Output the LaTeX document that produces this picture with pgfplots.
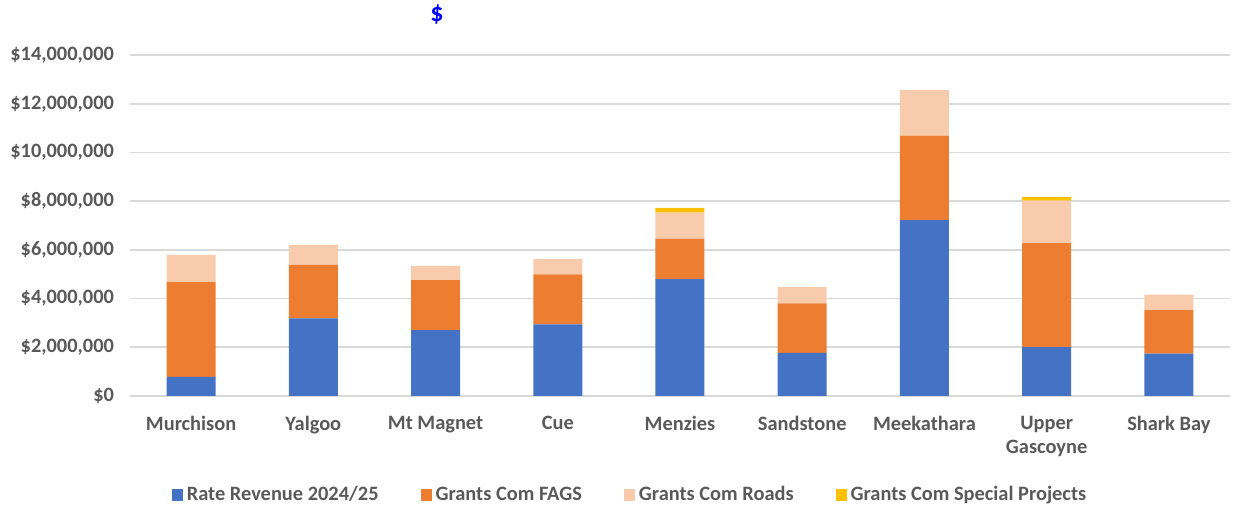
\documentclass[border=0pt]{standalone}
\usepackage{pgfplots}
\pgfplotsset{compat=1.18}
\usepackage{fontspec}
\setmainfont{Carlito}
\definecolor{cRate}{HTML}{4472C4}
\definecolor{cFags}{HTML}{ED7D31}
\definecolor{cRoads}{HTML}{F8CBAD}
\definecolor{cSpec}{HTML}{FFC000}
\definecolor{cText}{HTML}{595959}
\definecolor{cGrid}{HTML}{D9D9D9}
\begin{document}
\begin{tikzpicture}[x=1pt,y=1pt]
\useasboundingbox (0,0) rectangle (616.5,254);
\begin{axis}[
  at={(65pt,56pt)}, anchor=south west,
  scale only axis, width=550pt, height=170.5pt,
  ybar stacked, bar width=24.5pt,
  xmin=-0.5, xmax=8.5, ymin=0, ymax=14000000,
  axis line style={draw=none},
  xtick={0,...,8},
  xticklabels={Murchison,Yalgoo,Mt Magnet,Cue,Menzies,Sandstone,Meekathara,{Upper\\Gascoyne},Shark Bay},
  ytick={0,2000000,4000000,6000000,8000000,10000000,12000000,14000000},
  yticklabels={{\$0},{\$2,000,000},{\$4,000,000},{\$6,000,000},{\$8,000,000},{\$10,000,000},{\$12,000,000},{\$14,000,000}},
  scaled y ticks=false,
  major tick length=0pt,
  ymajorgrids, grid style={cGrid, line width=0.8pt},
  tick label style={font=\fontsize{10.2}{12.2}\selectfont\bfseries, text=cText},
  xticklabel style={align=center, yshift=-6.5pt},
  yticklabel style={xshift=-4.5pt},
  legend columns=4,
  legend style={at={(0.4555,-0.29)}, anchor=center, draw=none, fill=none,
    font=\fontsize{10.2}{12.2}\selectfont\bfseries, text=cText,
    /tikz/every even column/.append style={column sep=19pt}},
  legend image code/.code={\fill[#1] (0pt,-3pt) rectangle (5.5pt,3pt);},
]
\addplot[fill=cRate, draw=none] coordinates {(0,790000) (1,3190000) (2,2700000) (3,2940000) (4,4800000) (5,1770000) (6,7220000) (7,2010000) (8,1740000)};
\addlegendentry{Rate Revenue 2024/25}
\addplot[fill=cFags, draw=none] coordinates {(0,3880000) (1,2190000) (2,2060000) (3,2050000) (4,1660000) (5,2030000) (6,3470000) (7,4270000) (8,1790000)};
\addlegendentry{Grants Com FAGS}
\addplot[fill=cRoads, draw=none] coordinates {(0,1120000) (1,820000) (2,580000) (3,630000) (4,1070000) (5,670000) (6,1870000) (7,1740000) (8,630000)};
\addlegendentry{Grants Com Roads}
\addplot[fill=cSpec, draw=none] coordinates {(0,0) (1,0) (2,0) (3,0) (4,190000) (5,0) (6,0) (7,140000) (8,0)};
\addlegendentry{Grants Com Special Projects}
\end{axis}
\node[text=blue, font=\fontsize{13}{15}\selectfont\bfseries] at (218.5,246.5) {\$};
\end{tikzpicture}
\end{document}
